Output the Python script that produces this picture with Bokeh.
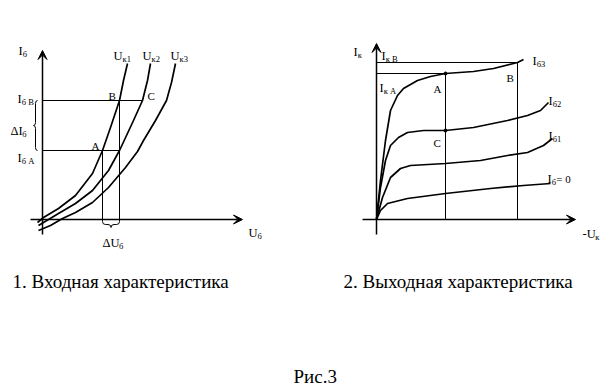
from bokeh.plotting import figure
from bokeh.layouts import row
from bokeh.models import Range1d, Arrow, VeeHead
from bokeh.core.properties import value
from bokeh.embed import file_html
from bokeh.resources import INLINE

FONT = "Liberation Serif"

# ---------------- 1. Input characteristic: I_b versus U_b ----------------
uk1_u = [-0.5, 0.1, 1.6, 3.3, 5.0, 6.0, 6.8, 7.7, 8.1, 8.5]
uk1_i = [-0.3, 0.2, 1.1, 2.4, 4.6, 6.9, 9.2, 11.9, 13.9, 15.6]
uk2_u = [-0.4, 1.6, 3.3, 5.0, 6.6, 7.7, 9.1, 10.0, 10.5, 10.8]
uk2_i = [-0.6, 0.6, 1.6, 2.9, 4.9, 6.9, 9.9, 11.9, 13.9, 15.6]
uk3_u = [-0.4, 0.8, 2.0, 3.3, 5.0, 6.6, 8.3, 9.5, 10.1, 11.3, 12.4, 12.9, 13.3]
uk3_i = [-1.1, -0.6, 0.1, 0.7, 1.7, 3.2, 5.2, 6.8, 7.9, 9.9, 11.9, 13.7, 15.6]
ib_a, ib_b = 6.9, 11.9          # I_b at points A and B/C
ub_a, ub_b, ub_c = 6.0, 7.7, 10.0

# ---------------- 2. Output characteristic: I_k versus -U_k ----------------
ib3_u = [0, 0.4, 0.9, 1.4, 2.1, 2.7, 4.1, 5.4, 6.9, 9.7, 11.7, 14.1, 14.7]
ib3_i = [0, 3.9, 7.9, 10.9, 12.4, 13.1, 13.9, 14.3, 14.6, 14.8, 15.1, 15.7, 16.0]
ib2_u = [0, 0.4, 0.9, 1.4, 2.2, 3.1, 4.7, 6.9, 9.7, 13.1, 15.1, 16.4, 17.2]
ib2_i = [0, 3.2, 5.9, 7.4, 8.2, 8.7, 8.9, 8.9, 9.2, 9.9, 10.4, 10.9, 11.7]
ib1_u = [0, 0.6, 1.4, 2.4, 3.4, 6.9, 10.4, 13.1, 15.1, 16.7, 17.6]
ib1_i = [0, 2.2, 4.2, 5.1, 5.4, 5.6, 5.9, 6.4, 6.7, 7.4, 8.1]
ib0_u = [0, 0.4, 1.1, 3.1, 6.9, 11.4, 14.7, 17.4]
ib0_i = [0, 0.9, 1.6, 2.1, 2.6, 3.1, 3.4, 3.6]
uk_a, uk_b = 6.9, 14.1
ik_a, ik_b, ik_c = 14.6, 15.7, 8.9

Y0, Y1 = -16.9, 21.9


def make_fig(width, x0, x1):
    p = figure(width=width, height=388, x_range=Range1d(x0, x1),
               y_range=Range1d(Y0, Y1), output_backend="svg",
               toolbar_location=None, min_border=0,
               x_axis_location=None, y_axis_location=None)
    p.grid.visible = False
    p.outline_line_color = None
    p.background_fill_color = "white"
    p.border_fill_color = "white"
    return p


def txt(p, x, y, s, size=12, xo=0, yo=0):
    p.text(x=[x], y=[y], text=[s], text_font=value(FONT),
           text_font_size=f"{size}px", text_baseline="alphabetic",
           text_align="left", text_color="black", x_offset=xo, y_offset=yo)


def lab(p, x, y, main, sub, main_w, tail=None, sub_w=0):
    txt(p, x, y, main, 12.5)
    txt(p, x, y, sub, 8.5, xo=main_w, yo=3)
    if tail:
        txt(p, x, y, tail, 11, xo=main_w + sub_w)


def axis_arrow(p, xs, ys, xe, ye):
    p.add_layout(Arrow(end=VeeHead(size=9, fill_color="black", line_color="black", line_width=1),
                       x_start=xs, y_start=ys, x_end=xe, y_end=ye,
                       line_color="black", line_width=1.5))


def vbrace(p, xr, ylo, yhi, w=0.4, r=0.3):
    ym = (ylo + yhi) / 2
    xm = xr - w / 2
    xt = xr - w
    p.quadratic(x0=[xr, xm, xt, xm], y0=[yhi, ym + r, ym, ylo + r],
                x1=[xm, xt, xm, xr], y1=[yhi - r, ym, ym - r, ylo],
                cx=[xm, xm, xm, xm], cy=[yhi, ym, ym, ylo],
                line_color="black", line_width=1)
    p.segment(x0=[xm, xm], y0=[yhi - r, ym - r], x1=[xm, xm], y1=[ym + r, ylo + r],
              line_color="black", line_width=1)


def hbrace(p, xl, xr, yt, h=0.6, r=0.3):
    xm = (xl + xr) / 2
    yh = yt - h / 2
    yb = yt - h
    p.quadratic(x0=[xl, xm - r, xm, xr - r], y0=[yt, yh, yb, yh],
                x1=[xl + r, xm, xm + r, xr], y1=[yh, yb, yh, yt],
                cx=[xl, xm, xm, xr], cy=[yh, yh, yh, yh],
                line_color="black", line_width=1)
    p.segment(x0=[xl + r, xm + r], y0=[yh, yh], x1=[xm - r, xr - r], y1=[yh, yh],
              line_color="black", line_width=1)


# ---------------- left figure ----------------
p1 = make_fig(340, -4.2, 29.8)
axis_arrow(p1, -1.2, 0, 20.0, 0)
axis_arrow(p1, 0, -1.5, 0, 16.9)
# guide lines
p1.segment(x0=[0, 0, ub_a, ub_b], y0=[ib_b, ib_a, ib_a, ib_b],
           x1=[ub_c, ub_b, ub_a, ub_b], y1=[ib_b, ib_a, -0.2, -0.2],
           line_color="black", line_width=1)
for xs, ys in [(uk1_u, uk1_i), (uk2_u, uk2_i), (uk3_u, uk3_i)]:
    p1.line(xs, ys, line_color="black", line_width=1.7, line_join="round")
vbrace(p1, -0.5, ib_a, ib_b)
hbrace(p1, ub_a, ub_b, -0.2)

lab(p1, -2.4, 16.9, "I", "б", 4.2)
lab(p1, -2.5, 12.1, "I", "б B", 4.2)
lab(p1, -3.2, 8.9, "ΔI", "б", 11.8)
lab(p1, -2.5, 6.2, "I", "б A", 4.2)
lab(p1, 7.1, 16.4, "U", "к1", 9.0)
lab(p1, 10.0, 16.4, "U", "к2", 9.0)
lab(p1, 12.8, 16.4, "U", "к3", 9.0)
lab(p1, 20.6, -1.3, "U", "б", 9.0)
lab(p1, 6.0, -2.3, "ΔU", "б", 16.6)
txt(p1, 4.9, 7.4, "A", 11)
txt(p1, 6.6, 12.4, "B", 11)
txt(p1, 10.5, 12.4, "C", 11)
txt(p1, -3.0, -6.2, "1. Входная характеристика", 19)
txt(p1, 25.1, -15.7, "Рис.3", 19)

# ---------------- right figure ----------------
p2 = make_fig(265, -3.6, 22.9)
axis_arrow(p2, -1.4, 0, 19.9, 0)
axis_arrow(p2, 0, -1.5, 0, 17.6)
p2.segment(x0=[0, 0, uk_a, uk_b], y0=[ik_b, ik_a, ik_a, ik_b],
           x1=[uk_b, uk_a, uk_a, uk_b], y1=[ik_b, ik_a, 0, 0],
           line_color="black", line_width=1)
for xs, ys in [(ib3_u, ib3_i), (ib2_u, ib2_i), (ib1_u, ib1_i), (ib0_u, ib0_i)]:
    p2.line(xs, ys, line_color="black", line_width=1.7, line_join="round")
p2.scatter([uk_a, uk_a], [ik_a, ik_c], size=3, color="black")

lab(p2, -2.3, 16.8, "I", "к", 4.2)
lab(p2, 0.5, 16.4, "I", "к B", 4.2)
lab(p2, 0.3, 13.2, "I", "к A", 4.2)
lab(p2, 15.6, 15.9, "I", "б3", 4.2)
lab(p2, 17.2, 11.9, "I", "б2", 4.2)
lab(p2, 17.2, 8.4, "I", "б1", 4.2)
lab(p2, 17.1, 4.1, "I", "б", 4.2, tail=" = 0", sub_w=4.5)
lab(p2, 20.6, -1.4, "-U", "к", 12.8)
txt(p2, 5.7, 13.1, "A", 11)
txt(p2, 13.0, 14.2, "B", 11)
txt(p2, 5.7, 7.7, "C", 11)
txt(p2, -3.3, -6.2, "2. Выходная характеристика", 19)

layout = row(p1, p2)
open("out.html", "w").write(file_html(layout, INLINE))
